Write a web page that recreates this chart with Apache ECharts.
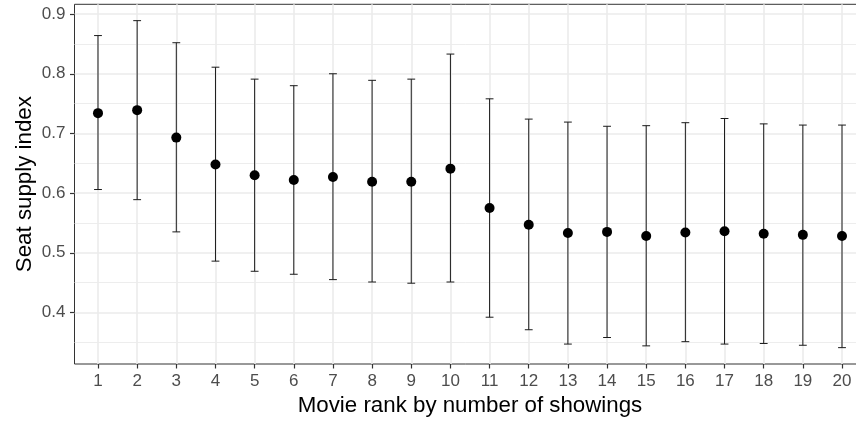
<!DOCTYPE html>
<html>
<head>
<meta charset="utf-8">
<script src="https://cdn.jsdelivr.net/npm/echarts@6/dist/echarts.min.js"></script>
<style>
  html, body { margin: 0; padding: 0; background: #ffffff; }
  #chart { width: 856px; height: 424px; }
</style>
</head>
<body>
<div id="chart"></div>
<script>
// Movie ranks (by number of showings) and the seat supply index summary per rank
const ranks = [1, 2, 3, 4, 5, 6, 7, 8, 9, 10, 11, 12, 13, 14, 15, 16, 17, 18, 19, 20];
const meanIndex = [0.734, 0.739, 0.693, 0.648, 0.630, 0.622, 0.627, 0.619, 0.619, 0.641,
                   0.575, 0.547, 0.533, 0.535, 0.528, 0.534, 0.536, 0.532, 0.530, 0.528];
const lowerIndex = [0.606, 0.589, 0.535, 0.486, 0.469, 0.464, 0.455, 0.451, 0.449, 0.451,
                    0.392, 0.371, 0.347, 0.358, 0.344, 0.351, 0.347, 0.348, 0.345, 0.341];
const upperIndex = [0.864, 0.889, 0.852, 0.811, 0.791, 0.780, 0.800, 0.789, 0.791, 0.833,
                    0.758, 0.724, 0.719, 0.712, 0.713, 0.718, 0.725, 0.716, 0.714, 0.714];
const yTicks = [0.4, 0.5, 0.6, 0.7, 0.8, 0.9];
const yMinorLines = [0.35, 0.45, 0.55, 0.65, 0.75, 0.85];

const FONT = '"Liberation Sans", Arial, Helvetica, sans-serif';
const CAP_HALF = 0.1; // half width of the error bar caps, in rank units
const Y_MIN = 0.3136;
const Y_MAX = 0.9164;

const barData = ranks.map((r, i) => [r, lowerIndex[i], upperIndex[i]]);
const pointData = ranks.map((r, i) => [r, meanIndex[i]]);

const chart = echarts.init(document.getElementById('chart'), null, { renderer: 'canvas' });

chart.setOption({
  animation: false,
  backgroundColor: '#ffffff',
  grid: {
    left: 74.5,
    top: 4.3,
    height: 359.7,
    width: 791,
    outerBoundsMode: 'none',
    containLabel: false,
    show: true,
    borderColor: '#333333',
    borderWidth: 1,
    backgroundColor: 'transparent'
  },
  xAxis: {
    type: 'value',
    min: 0.4,
    max: 20.6,
    name: 'Movie rank by number of showings',
    nameLocation: 'middle',
    nameGap: 31,
    nameMoveOverlap: false,
    nameTextStyle: { fontFamily: FONT, fontSize: 22.3, color: '#000000' },
    axisLine: { show: false },
    axisTick: {
      show: true, length: 4.5, customValues: ranks,
      lineStyle: { color: '#333333', width: 1.2 }
    },
    axisLabel: {
      customValues: ranks, margin: 9,
      fontFamily: FONT, fontSize: 17, color: '#4d4d4d'
    },
    splitLine: { show: true, lineStyle: { color: '#ebebeb', width: 1.6 } }
  },
  yAxis: [
    {
      type: 'value',
      min: Y_MIN,
      max: Y_MAX,
      name: 'Seat supply index',
      nameLocation: 'middle',
      nameRotate: 90,
      nameGap: 39,
      nameMoveOverlap: false,
      nameTextStyle: { fontFamily: FONT, fontSize: 22.3, color: '#000000' },
      axisLine: { show: false },
      axisTick: {
        show: true, length: 4.5, customValues: yTicks,
        lineStyle: { color: '#333333', width: 1.2 }
      },
      axisLabel: {
        customValues: yTicks, margin: 9,
        fontFamily: FONT, fontSize: 17, color: '#4d4d4d',
        formatter: v => v.toFixed(1)
      },
      splitLine: { show: true, lineStyle: { color: '#ebebeb', width: 1.6 } }
    },
    {
      // same scale, only used for the minor horizontal grid lines
      type: 'value',
      position: 'left',
      min: Y_MIN,
      max: Y_MAX,
      axisLine: { show: false },
      axisTick: { show: false, customValues: yMinorLines },
      axisLabel: { show: false, customValues: yMinorLines },
      splitLine: { show: true, lineStyle: { color: '#ebebeb', width: 0.9 } }
    }
  ],
  series: [
    {
      // error bars with caps
      type: 'custom',
      data: barData,
      encode: { x: 0, y: [1, 2] },
      z: 3,
      renderItem: function (params, api) {
        const x = api.value(0);
        const lo = api.coord([x, api.value(1)]);
        const hi = api.coord([x, api.value(2)]);
        const capL = api.coord([x - CAP_HALF, api.value(1)])[0];
        const capR = api.coord([x + CAP_HALF, api.value(1)])[0];
        const style = { stroke: '#1a1a1a', lineWidth: 1, fill: null };
        return {
          type: 'group',
          children: [
            { type: 'line', shape: { x1: lo[0], y1: lo[1], x2: hi[0], y2: hi[1] }, style: style },
            { type: 'line', shape: { x1: capL, y1: lo[1], x2: capR, y2: lo[1] }, style: style },
            { type: 'line', shape: { x1: capL, y1: hi[1], x2: capR, y2: hi[1] }, style: style }
          ]
        };
      }
    },
    {
      // mean values
      type: 'scatter',
      data: pointData,
      symbol: 'circle',
      symbolSize: 10,
      z: 4,
      itemStyle: { color: '#000000', opacity: 1 }
    }
  ]
});
</script>
</body>
</html>
